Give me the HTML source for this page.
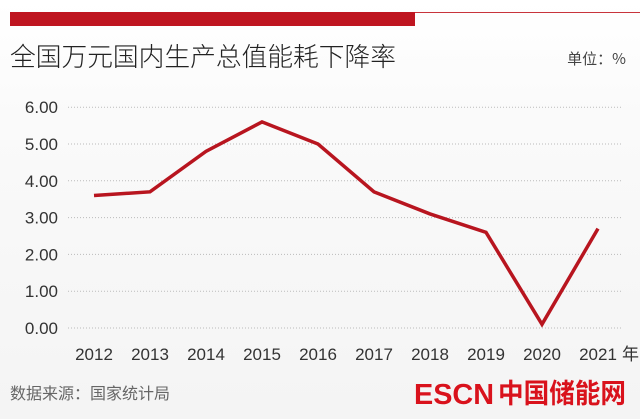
<!DOCTYPE html>
<html><head><meta charset="utf-8"><style>
html,body{margin:0;padding:0}
body{width:640px;height:419px;overflow:hidden;background:linear-gradient(#fff 0,#fafafa 120px,#f4f4f4 419px);font-family:"Liberation Sans","Noto Sans CJK SC",sans-serif;position:relative}
</style></head><body>
<svg width="640" height="419" style="position:absolute;left:0;top:0">
<rect x="10" y="12" width="405" height="14" fill="#bf1520"/>
<line x1="415" y1="12.5" x2="640" y2="12.5" stroke="#c8343c" stroke-width="1"/>
<text x="10" y="66" font-size="26" fill="#222" font-family="Noto Sans CJK SC,sans-serif" font-weight="300" textLength="386" lengthAdjust="spacingAndGlyphs">全国万元国内生产总值能耗下降率</text>
<text x="626" y="64" font-size="15" fill="#444" text-anchor="end" font-family="Noto Sans CJK SC,sans-serif">单位：%</text>
<g id="grid"></g><g id="yt"></g><g id="xt"></g>
<path id="line" fill="none" stroke="#b8151f" stroke-width="3.5" stroke-linejoin="miter"/>
<text x="10" y="399" font-size="16" fill="#666" font-family="Noto Sans CJK SC,sans-serif">数据来源：国家统计局</text>
<text x="414" y="404" font-size="29" fill="#d9121c" font-weight="bold" font-family="Liberation Sans,sans-serif" textLength="80" lengthAdjust="spacingAndGlyphs">ESCN</text>
<text x="498" y="403" font-size="27" fill="#d9121c" font-weight="bold" font-family="Noto Sans CJK SC,sans-serif" textLength="128" lengthAdjust="spacingAndGlyphs">中国储能网</text>
</svg>
<script>
const years=["2012","2013","2014","2015","2016","2017","2018","2019","2020","2021"];
const values=[3.6,3.7,4.8,5.6,5.0,3.7,3.1,2.6,0.1,2.7];
const yTicks=[0,1,2,3,4,5,6];
const NS="http://www.w3.org/2000/svg";
const x=i=>94+i*56, y=v=>328-v*36.8;
const g=document.getElementById('grid'),yt=document.getElementById('yt'),xt=document.getElementById('xt');
yTicks.forEach(t=>{
 const l=document.createElementNS(NS,'line');
 l.setAttribute('x1',68);l.setAttribute('x2',622);l.setAttribute('y1',y(t));l.setAttribute('y2',y(t));
 l.setAttribute('stroke','#bbb');l.setAttribute('stroke-dasharray','1 2');
 
 
 g.appendChild(l);
 const tx=document.createElementNS(NS,'text');
 tx.setAttribute('x',58);tx.setAttribute('y',y(t)+6);tx.setAttribute('text-anchor','end');
 tx.setAttribute('font-size','17');tx.setAttribute('fill','#333');
 tx.textContent=t.toFixed(2);
 
 
 yt.appendChild(tx);
});
years.forEach((yr,i)=>{
 const tx=document.createElementNS(NS,'text');
 tx.setAttribute('x',x(i));tx.setAttribute('y',360);tx.setAttribute('text-anchor','middle');
 tx.setAttribute('font-size','17');tx.setAttribute('fill','#333');
 tx.textContent=yr;
 
 
 xt.appendChild(tx);
});
const nian=document.createElementNS(NS,'text');
nian.setAttribute('x',x(years.length-1)+24);nian.setAttribute('y',360);nian.setAttribute('font-size','17');nian.setAttribute('fill','#333');
nian.setAttribute('font-family','Noto Sans CJK SC,sans-serif');
nian.textContent='年';


xt.appendChild(nian);
document.getElementById('line').setAttribute('d',values.map((v,i)=>(i?'L':'M')+x(i)+','+y(v)).join(''));
</script>
</body></html>
